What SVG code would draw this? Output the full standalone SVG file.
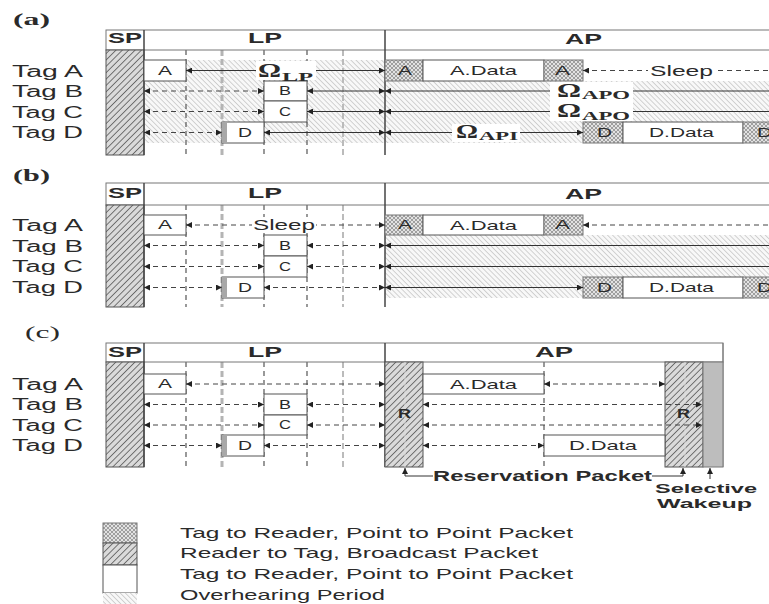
<svg xmlns="http://www.w3.org/2000/svg" width="769" height="604" viewBox="0 0 769 604">
<defs>
<pattern id="sp" width="4.5" height="4.5" patternUnits="userSpaceOnUse" patternTransform="rotate(45)">
<rect width="4.5" height="4.5" fill="#dadada"/>
<line x1="0" y1="0" x2="0" y2="4.5" stroke="#2e2e2e" stroke-width="1.2"/>
</pattern>
<pattern id="oh" width="3.6" height="3.6" patternUnits="userSpaceOnUse" patternTransform="rotate(-45)">
<rect width="3.6" height="3.6" fill="#f8f8f8"/>
<line x1="0" y1="0" x2="0" y2="3.6" stroke="#b8b8b8" stroke-width="1.2"/>
</pattern>
<pattern id="xh" width="4" height="4" patternUnits="userSpaceOnUse">
<rect width="4" height="4" fill="#e2e2e2"/>
<path d="M0,0 L4,4 M4,0 L0,4" stroke="#8e8e8e" stroke-width="0.8"/>
</pattern>
<marker id="ah" viewBox="0 0 6 6" refX="6" refY="3" markerWidth="6" markerHeight="6" markerUnits="userSpaceOnUse" orient="auto-start-reverse">
<path d="M0,0 L6,3 L0,6 z" fill="#222"/>
</marker>
<marker id="up" viewBox="0 0 6 6" refX="6" refY="3" markerWidth="6" markerHeight="6" markerUnits="userSpaceOnUse" orient="auto">
<path d="M0,0 L6,3 L0,6 z" fill="#222"/>
</marker>
</defs>
<style>
text{font-family:"Liberation Sans",Arial,sans-serif;fill:#2a2a2a}
.tag{font-size:16px}
.hd{font-size:15px;font-weight:bold}
.bx{font-size:12px}
.dt{font-size:13px}
.pl{font-family:"Liberation Serif",serif;font-size:17px;font-weight:bold}
.om{font-family:"Liberation Serif",serif;font-size:19px;font-weight:bold}
.sub{font-family:"Liberation Serif",serif;font-size:13px;font-weight:bold}
.lg{font-size:15px}
.rp{font-size:14px;font-weight:bold}
.sw{font-size:13px;font-weight:bold}
.sp{fill:url(#sp);stroke:#555;stroke-width:1}
.oh{fill:url(#oh);stroke:none}
.xh{fill:url(#xh);stroke:#777;stroke-width:1}
.wb{fill:#fff;stroke:#555;stroke-width:1}
.hdr{fill:#fff;stroke:#777;stroke-width:1}
.div{stroke:#444;stroke-width:1.5;fill:none}
.vd{stroke:#555;stroke-width:1.2;stroke-dasharray:5,4;fill:none}
.vg{stroke:#b4b4b4;stroke-width:3;stroke-dasharray:6,3;fill:none}
.sl{stroke:#333;stroke-width:1;fill:none}
.dl{stroke:#444;stroke-width:1;stroke-dasharray:5,4;fill:none}
.b2{marker-start:url(#ah);marker-end:url(#ah)}
.bs{marker-start:url(#ah)}
.be{marker-end:url(#ah)}
.wbg{fill:#fff;stroke:none}
</style>

<!-- Panel (a) -->
<g id="panel-a">
<text class="pl" x="13" y="25" textLength="37" lengthAdjust="spacingAndGlyphs">(a)</text>
<g id="a-tags">
<text class="tag" x="12" y="77" textLength="71" lengthAdjust="spacingAndGlyphs">Tag A</text>
<text class="tag" x="12" y="97" textLength="71" lengthAdjust="spacingAndGlyphs">Tag B</text>
<text class="tag" x="12" y="118" textLength="71" lengthAdjust="spacingAndGlyphs">Tag C</text>
<text class="tag" x="12" y="138" textLength="71" lengthAdjust="spacingAndGlyphs">Tag D</text>
</g>
<g id="a-overhear">
<rect class="oh" x="186" y="60" width="199" height="21"/>
<rect class="oh" x="144" y="81" width="241" height="62"/>
<rect class="oh" x="385" y="81" width="384" height="41"/>
<rect class="oh" x="385" y="122" width="198" height="21"/>
</g>
<g id="a-grid">
<line class="vd" x1="186" y1="50" x2="186" y2="155"/>
<line class="vg" x1="222" y1="50" x2="222" y2="155"/>
<line class="vd" x1="264" y1="50" x2="264" y2="155"/>
<line class="vd" x1="307" y1="50" x2="307" y2="155"/>
<line class="vg" x1="343" y1="50" x2="343" y2="155" style="stroke:#bbb;stroke-width:2"/>
</g>
<g id="a-header">
<rect class="hdr" x="106" y="30" width="670" height="20"/>
<rect class="sp" x="106" y="50" width="38" height="105"/>
<line class="div" x1="144" y1="30" x2="144" y2="155"/>
<line class="div" x1="385" y1="30" x2="385" y2="155"/>
<text class="hd" x="108" y="43" textLength="34" lengthAdjust="spacingAndGlyphs">SP</text>
<text class="hd" x="248" y="43" textLength="34" lengthAdjust="spacingAndGlyphs">LP</text>
<text class="hd" x="565" y="44" textLength="37" lengthAdjust="spacingAndGlyphs">AP</text>
</g>
<g id="a-packets">
<rect class="wb" x="144" y="60" width="42" height="21"/>
<text class="bx" x="158" y="75" textLength="14" lengthAdjust="spacingAndGlyphs">A</text>
<rect class="wb" x="264" y="81" width="43" height="20"/>
<text class="bx" x="279" y="95" textLength="12" lengthAdjust="spacingAndGlyphs">B</text>
<rect class="wb" x="264" y="101" width="43" height="21"/>
<text class="bx" x="279" y="116" textLength="12" lengthAdjust="spacingAndGlyphs">C</text>
<rect class="wb" x="222" y="122" width="42" height="21"/>
<rect x="222" y="122" width="5" height="21" fill="#a8a8a8"/>
<text class="bx" x="238" y="137" textLength="14" lengthAdjust="spacingAndGlyphs">D</text>
<rect class="xh" x="385" y="60" width="38" height="21"/>
<text class="bx" x="398" y="75" textLength="14" lengthAdjust="spacingAndGlyphs">A</text>
<rect class="wb" x="423" y="60" width="121" height="21"/>
<text class="dt" x="450" y="75" textLength="67" lengthAdjust="spacingAndGlyphs">A.Data</text>
<rect class="xh" x="544" y="60" width="39" height="21"/>
<text class="bx" x="555" y="75" textLength="15" lengthAdjust="spacingAndGlyphs">A</text>
<rect class="xh" x="583" y="122" width="40" height="21"/>
<text class="bx" x="597" y="137" textLength="15" lengthAdjust="spacingAndGlyphs">D</text>
<rect class="wb" x="623" y="122" width="120" height="21"/>
<text class="dt" x="649" y="137" textLength="65" lengthAdjust="spacingAndGlyphs">D.Data</text>
<rect class="xh" x="743" y="122" width="40" height="21"/>
<text class="bx" x="757" y="137" textLength="15" lengthAdjust="spacingAndGlyphs">D</text>
</g>
<g id="a-connectors">
<line class="sl b2" x1="186" y1="70.5" x2="385" y2="70.5"/>
<line class="dl b2" x1="144" y1="91" x2="264" y2="91"/>
<line class="sl b2" x1="307" y1="91" x2="385" y2="91"/>
<line class="dl b2" x1="144" y1="111.5" x2="264" y2="111.5"/>
<line class="sl b2" x1="307" y1="111.5" x2="385" y2="111.5"/>
<line class="dl b2" x1="144" y1="132.5" x2="222" y2="132.5"/>
<line class="sl b2" x1="264" y1="132.5" x2="385" y2="132.5"/>
<line class="dl bs" x1="583" y1="70.5" x2="780" y2="70.5"/>
<line class="sl bs" x1="385" y1="91" x2="780" y2="91"/>
<line class="sl bs" x1="385" y1="111.5" x2="780" y2="111.5"/>
<line class="sl b2" x1="385" y1="132.5" x2="583" y2="132.5"/>
</g>
<g id="a-labels">
<rect class="wbg" x="256" y="61" width="60" height="19"/>
<text class="om" x="258" y="77" textLength="23" lengthAdjust="spacingAndGlyphs">Ω</text>
<text class="sub" x="282" y="81" textLength="31" lengthAdjust="spacingAndGlyphs">LP</text>
<rect class="wbg" x="550" y="82" width="83" height="39"/>
<text class="om" x="557" y="97" textLength="24" lengthAdjust="spacingAndGlyphs">Ω</text>
<text class="sub" x="582" y="99" textLength="48" lengthAdjust="spacingAndGlyphs">APO</text>
<text class="om" x="557" y="117" textLength="24" lengthAdjust="spacingAndGlyphs">Ω</text>
<text class="sub" x="582" y="120" textLength="48" lengthAdjust="spacingAndGlyphs">APO</text>
<rect class="wbg" x="452" y="124" width="68" height="18"/>
<text class="om" x="456" y="138" textLength="22" lengthAdjust="spacingAndGlyphs">Ω</text>
<text class="sub" x="479" y="140" textLength="39" lengthAdjust="spacingAndGlyphs">API</text>
<rect class="wbg" x="648" y="62" width="67" height="17"/>
<text class="lg" x="650" y="76" textLength="63" lengthAdjust="spacingAndGlyphs">Sleep</text>
</g>
</g>

<!-- Panel (b) -->
<g id="panel-b">
<text class="pl" x="13" y="181" textLength="37" lengthAdjust="spacingAndGlyphs">(b)</text>
<g id="b-tags">
<text class="tag" x="12" y="231" textLength="71" lengthAdjust="spacingAndGlyphs">Tag A</text>
<text class="tag" x="12" y="252" textLength="71" lengthAdjust="spacingAndGlyphs">Tag B</text>
<text class="tag" x="12" y="272" textLength="71" lengthAdjust="spacingAndGlyphs">Tag C</text>
<text class="tag" x="12" y="293" textLength="71" lengthAdjust="spacingAndGlyphs">Tag D</text>
</g>
<g id="b-overhear">
<rect class="oh" x="385" y="235" width="384" height="42"/>
<rect class="oh" x="385" y="277" width="198" height="21"/>
</g>
<g id="b-grid">
<line class="vd" x1="186" y1="205" x2="186" y2="307"/>
<line class="vg" x1="222" y1="205" x2="222" y2="307"/>
<line class="vd" x1="264" y1="205" x2="264" y2="307"/>
<line class="vd" x1="307" y1="205" x2="307" y2="307"/>
<line class="vg" x1="343" y1="205" x2="343" y2="307" style="stroke:#bbb;stroke-width:2"/>
</g>
<g id="b-header">
<rect class="hdr" x="106" y="183" width="670" height="22"/>
<rect class="sp" x="106" y="205" width="38" height="102"/>
<line class="div" x1="144" y1="183" x2="144" y2="307"/>
<line class="div" x1="385" y1="183" x2="385" y2="307"/>
<text class="hd" x="108" y="198" textLength="34" lengthAdjust="spacingAndGlyphs">SP</text>
<text class="hd" x="248" y="198" textLength="34" lengthAdjust="spacingAndGlyphs">LP</text>
<text class="hd" x="565" y="199" textLength="37" lengthAdjust="spacingAndGlyphs">AP</text>
</g>
<g id="b-packets">
<rect class="wb" x="144" y="215" width="42" height="20"/>
<text class="bx" x="158" y="229" textLength="14" lengthAdjust="spacingAndGlyphs">A</text>
<rect class="wb" x="264" y="235" width="43" height="21"/>
<text class="bx" x="279" y="250" textLength="12" lengthAdjust="spacingAndGlyphs">B</text>
<rect class="wb" x="264" y="256" width="43" height="21"/>
<text class="bx" x="279" y="271" textLength="12" lengthAdjust="spacingAndGlyphs">C</text>
<rect class="wb" x="222" y="277" width="42" height="21"/>
<rect x="222" y="277" width="5" height="21" fill="#a8a8a8"/>
<text class="bx" x="238" y="292" textLength="14" lengthAdjust="spacingAndGlyphs">D</text>
<rect class="xh" x="385" y="215" width="38" height="20"/>
<text class="bx" x="398" y="229" textLength="14" lengthAdjust="spacingAndGlyphs">A</text>
<rect class="wb" x="423" y="215" width="121" height="20"/>
<text class="dt" x="450" y="230" textLength="67" lengthAdjust="spacingAndGlyphs">A.Data</text>
<rect class="xh" x="544" y="215" width="39" height="20"/>
<text class="bx" x="555" y="229" textLength="15" lengthAdjust="spacingAndGlyphs">A</text>
<rect class="xh" x="583" y="277" width="40" height="21"/>
<text class="bx" x="597" y="292" textLength="15" lengthAdjust="spacingAndGlyphs">D</text>
<rect class="wb" x="623" y="277" width="120" height="21"/>
<text class="dt" x="649" y="292" textLength="65" lengthAdjust="spacingAndGlyphs">D.Data</text>
<rect class="xh" x="743" y="277" width="40" height="21"/>
<text class="bx" x="757" y="292" textLength="15" lengthAdjust="spacingAndGlyphs">D</text>
</g>
<g id="b-connectors">
<line class="dl b2" x1="186" y1="225" x2="385" y2="225"/>
<line class="dl b2" x1="144" y1="245.5" x2="264" y2="245.5"/>
<line class="dl b2" x1="307" y1="245.5" x2="385" y2="245.5"/>
<line class="dl b2" x1="144" y1="266.5" x2="264" y2="266.5"/>
<line class="dl b2" x1="307" y1="266.5" x2="385" y2="266.5"/>
<line class="dl b2" x1="144" y1="287.5" x2="222" y2="287.5"/>
<line class="dl b2" x1="264" y1="287.5" x2="385" y2="287.5"/>
<line class="dl bs" x1="583" y1="225" x2="780" y2="225"/>
<line class="sl bs" x1="385" y1="245.5" x2="780" y2="245.5"/>
<line class="sl bs" x1="385" y1="266.5" x2="780" y2="266.5"/>
<line class="sl b2" x1="385" y1="287.5" x2="583" y2="287.5"/>
</g>
<g id="b-labels">
<rect class="wbg" x="252" y="217" width="64" height="16"/>
<text class="lg" x="253" y="230" textLength="62" lengthAdjust="spacingAndGlyphs">Sleep</text>
</g>
</g>

<!-- Panel (c) -->
<g id="panel-c">
<text class="pl" x="25" y="338" textLength="35" lengthAdjust="spacingAndGlyphs" style="font-weight:normal">(c)</text>
<g id="c-tags">
<text class="tag" x="12" y="390" textLength="71" lengthAdjust="spacingAndGlyphs">Tag A</text>
<text class="tag" x="12" y="410" textLength="71" lengthAdjust="spacingAndGlyphs">Tag B</text>
<text class="tag" x="12" y="431" textLength="71" lengthAdjust="spacingAndGlyphs">Tag C</text>
<text class="tag" x="12" y="451" textLength="71" lengthAdjust="spacingAndGlyphs">Tag D</text>
</g>
<g id="c-grid">
<line class="vd" x1="186" y1="362" x2="186" y2="467"/>
<line class="vg" x1="222" y1="362" x2="222" y2="467"/>
<line class="vd" x1="264" y1="362" x2="264" y2="467"/>
<line class="vd" x1="307" y1="362" x2="307" y2="467"/>
<line class="vg" x1="343" y1="362" x2="343" y2="467" style="stroke:#bbb;stroke-width:2"/>
<line class="vd" x1="544" y1="362" x2="544" y2="467"/>
</g>
<g id="c-header">
<rect class="hdr" x="106" y="343" width="617" height="19"/>
<rect class="sp" x="106" y="362" width="38" height="105"/>
<line class="div" x1="144" y1="343" x2="144" y2="467"/>
<line class="div" x1="385" y1="343" x2="385" y2="467"/>
<line class="div" x1="723" y1="343" x2="723" y2="467" style="stroke:#777;stroke-width:1"/>
<text class="hd" x="108" y="357" textLength="34" lengthAdjust="spacingAndGlyphs">SP</text>
<text class="hd" x="248" y="357" textLength="34" lengthAdjust="spacingAndGlyphs">LP</text>
<text class="hd" x="535" y="357" textLength="38" lengthAdjust="spacingAndGlyphs">AP</text>
</g>
<g id="c-reservation">
<rect class="sp" x="385" y="362" width="38" height="105"/>
<line x1="405" y1="362" x2="405" y2="467" stroke="#ddd" stroke-width="1"/>
<text class="bx" x="398" y="418" textLength="13" lengthAdjust="spacingAndGlyphs" style="font-weight:bold">R</text>
<rect class="sp" x="665" y="362" width="38" height="105"/>
<line x1="685" y1="362" x2="685" y2="467" stroke="#ddd" stroke-width="1"/>
<text class="bx" x="677" y="418" textLength="13" lengthAdjust="spacingAndGlyphs" style="font-weight:bold">R</text>
<rect x="703" y="362" width="20" height="105" fill="#bdbdbd" stroke="#777" stroke-width="1"/>
</g>
<g id="c-packets">
<rect class="wb" x="144" y="374" width="42" height="20"/>
<text class="bx" x="158" y="388" textLength="14" lengthAdjust="spacingAndGlyphs">A</text>
<rect class="wb" x="264" y="394" width="43" height="21"/>
<text class="bx" x="279" y="409" textLength="12" lengthAdjust="spacingAndGlyphs">B</text>
<rect class="wb" x="264" y="415" width="43" height="20"/>
<text class="bx" x="279" y="429" textLength="12" lengthAdjust="spacingAndGlyphs">C</text>
<rect class="wb" x="222" y="435" width="42" height="21"/>
<rect x="222" y="435" width="5" height="21" fill="#a8a8a8"/>
<text class="bx" x="238" y="450" textLength="14" lengthAdjust="spacingAndGlyphs">D</text>
<rect class="wb" x="423" y="374" width="121" height="20"/>
<text class="dt" x="450" y="389" textLength="67" lengthAdjust="spacingAndGlyphs">A.Data</text>
<rect class="wb" x="544" y="435" width="121" height="21"/>
<text class="dt" x="569" y="450" textLength="68" lengthAdjust="spacingAndGlyphs">D.Data</text>
</g>
<g id="c-connectors">
<line class="dl b2" x1="186" y1="384" x2="385" y2="384"/>
<line class="dl b2" x1="144" y1="404.5" x2="264" y2="404.5"/>
<line class="dl b2" x1="307" y1="404.5" x2="385" y2="404.5"/>
<line class="dl b2" x1="144" y1="425" x2="264" y2="425"/>
<line class="dl b2" x1="307" y1="425" x2="385" y2="425"/>
<line class="dl b2" x1="144" y1="445.5" x2="222" y2="445.5"/>
<line class="dl b2" x1="264" y1="445.5" x2="385" y2="445.5"/>
<line class="dl b2" x1="544" y1="384" x2="665" y2="384"/>
<line class="dl b2" x1="423" y1="404.5" x2="702" y2="404.5"/>
<line class="dl b2" x1="423" y1="425" x2="702" y2="425"/>
<line class="dl b2" x1="423" y1="445.5" x2="544" y2="445.5"/>
<polyline class="sl" points="433,476 405,476 405,468" style="marker-end:url(#up)"/>
<polyline class="sl" points="652,476 683,476 683,468" style="marker-end:url(#up)"/>
<line class="sl" x1="710" y1="479" x2="710" y2="468" style="marker-end:url(#up)"/>
</g>
<g id="c-labels">
<text class="rp" x="433" y="481" textLength="219" lengthAdjust="spacingAndGlyphs">Reservation Packet</text>
<text class="sw" x="655" y="493" textLength="102" lengthAdjust="spacingAndGlyphs">Selective</text>
<text class="sw" x="657" y="508" textLength="95" lengthAdjust="spacingAndGlyphs">Wakeup</text>
</g>
</g>

<!-- Legend -->
<g id="legend">
<rect class="xh" x="103" y="523" width="34" height="20"/>
<rect class="sp" x="103" y="543" width="34" height="22"/>
<rect class="wb" x="103" y="565" width="34" height="28"/>
<rect class="oh" x="103" y="593" width="34" height="11"/>
<text class="lg" x="180" y="538" textLength="393" lengthAdjust="spacingAndGlyphs">Tag to Reader, Point to Point Packet</text>
<text class="lg" x="180" y="558" textLength="358" lengthAdjust="spacingAndGlyphs">Reader to Tag, Broadcast Packet</text>
<text class="lg" x="180" y="579" textLength="393" lengthAdjust="spacingAndGlyphs">Tag to Reader, Point to Point Packet</text>
<text class="lg" x="180" y="600" textLength="205" lengthAdjust="spacingAndGlyphs">Overhearing Period</text>
</g>
</svg>
